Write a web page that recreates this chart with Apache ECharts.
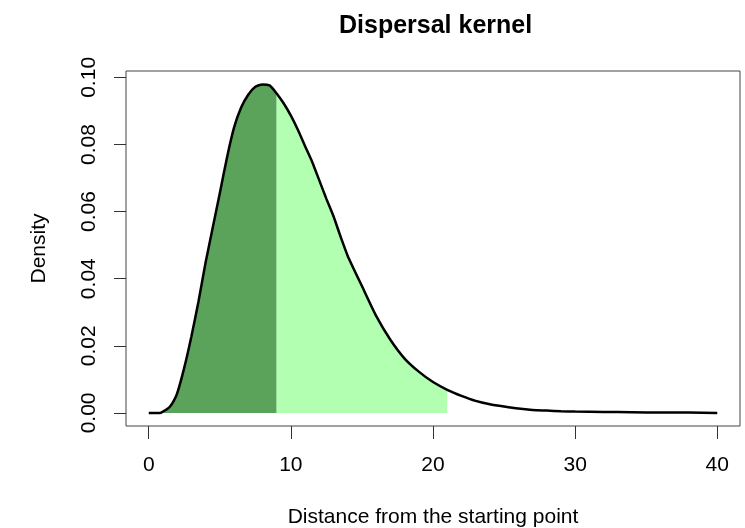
<!DOCTYPE html>
<html>
<head>
<meta charset="utf-8">
<title>Dispersal kernel</title>
<script src="https://cdn.jsdelivr.net/npm/echarts@6/dist/echarts.min.js"></script>
<style>
  html, body { margin: 0; padding: 0; background: #fff; }
  #chart { width: 745px; height: 528px; }
</style>
</head>
<body>
<div id="chart"></div>
<script>
// values
var distance = [0, 0.5, 0.8, 1.0, 1.25, 1.5, 1.75, 2.0, 2.5, 3.0, 3.5, 4.0, 4.5, 5.0, 5.5, 6.0,
  6.5, 7.0, 7.5, 8.0, 8.5, 9.0, 9.5, 10, 10.5, 11, 11.5, 12, 12.5, 13, 13.5, 14,
  15, 16, 17, 18, 19, 20, 21, 22, 23, 24, 25, 26, 27, 28, 29, 30, 32, 34, 36, 38, 40];
var density = [0, 0, 0, 0.0004, 0.0010, 0.0019, 0.0035, 0.0058, 0.0135, 0.0228, 0.0332, 0.0448, 0.0552, 0.0655, 0.0760, 0.0850,
  0.0910, 0.0948, 0.0972, 0.0979, 0.0976, 0.0952, 0.0922, 0.0886, 0.0843, 0.0795, 0.0748, 0.0693, 0.0638, 0.0586, 0.0525, 0.0468,
  0.0378, 0.0289, 0.0218, 0.0162, 0.0123, 0.0092, 0.0069, 0.0051, 0.0036, 0.0026, 0.0019, 0.0013, 0.0009, 0.0007, 0.0005, 0.0004, 0.0003, 0.0002, 0.0001, 0.0001, 0];
var darkRange = [0, 9];
var lightRange = [9, 21];
var xTicks = [0, 10, 20, 30, 40];
var yTicks = [0, 0.02, 0.04, 0.06, 0.08, 0.10];

function pairs(lo, hi) {
  var res = [];
  distance.forEach(function (v, i) {
    if (v >= lo && v <= hi) res.push([v, density[i]]);
  });
  return res;
}

var font = '"Liberation Sans", Arial, sans-serif';
var chart = echarts.init(document.getElementById('chart'));

chart.setOption({
  animation: false,
  title: {
    text: 'Dispersal kernel',
    left: 334,
    top: 9,
    textStyle: { fontFamily: font, fontSize: 25, fontWeight: 'bold', color: '#000' }
  },
  grid: {
    left: 126,
    right: 5,
    top: 71,
    bottom: 102,
    containLabel: false,
    outerBoundsMode: 'none',
    show: true,
    borderColor: '#444',
    borderWidth: 1
  },
  xAxis: {
    type: 'value',
    min: -1.6,
    max: 41.6,
    name: 'Distance from the starting point',
    nameLocation: 'middle',
    nameGap: 81,
    nameTextStyle: { fontFamily: font, fontSize: 21, color: '#000' },
    axisLine: { show: false, onZero: false },
    splitLine: { show: false },
    axisTick: { customValues: xTicks, length: 13, lineStyle: { color: '#333' } },
    axisLabel: {
      customValues: xTicks,
      margin: 29,
      fontFamily: font,
      fontSize: 21,
      color: '#000'
    }
  },
  yAxis: {
    type: 'value',
    min: -0.0039,
    max: 0.1019,
    name: 'Density',
    nameLocation: 'middle',
    nameGap: 76,
    nameTextStyle: { fontFamily: font, fontSize: 21, color: '#000' },
    axisLine: { show: false, onZero: false },
    splitLine: { show: false },
    axisTick: { customValues: yTicks, length: 12, lineStyle: { color: '#333' } },
    axisLabel: {
      customValues: yTicks,
      rotate: 90,
      margin: 26,
      fontFamily: font,
      fontSize: 21,
      color: '#000',
      formatter: function (v) { return v.toFixed(2); }
    }
  },
  series: [
    {
      type: 'line',
      data: pairs(darkRange[0], darkRange[1]),
      symbol: 'none',
      smooth: 0.2,
      lineStyle: { width: 0 },
      areaStyle: { color: '#5ba35a', opacity: 1 },
      z: 1
    },
    {
      type: 'line',
      data: pairs(lightRange[0], lightRange[1]),
      symbol: 'none',
      smooth: 0.2,
      lineStyle: { width: 0 },
      areaStyle: { color: '#b2ffb2', opacity: 1 },
      z: 1
    },
    {
      type: 'line',
      data: pairs(0, 40),
      symbol: 'none',
      smooth: 0.2,
      lineStyle: { color: '#000', width: 2.5 },
      z: 3
    }
  ]
});
</script>
</body>
</html>
